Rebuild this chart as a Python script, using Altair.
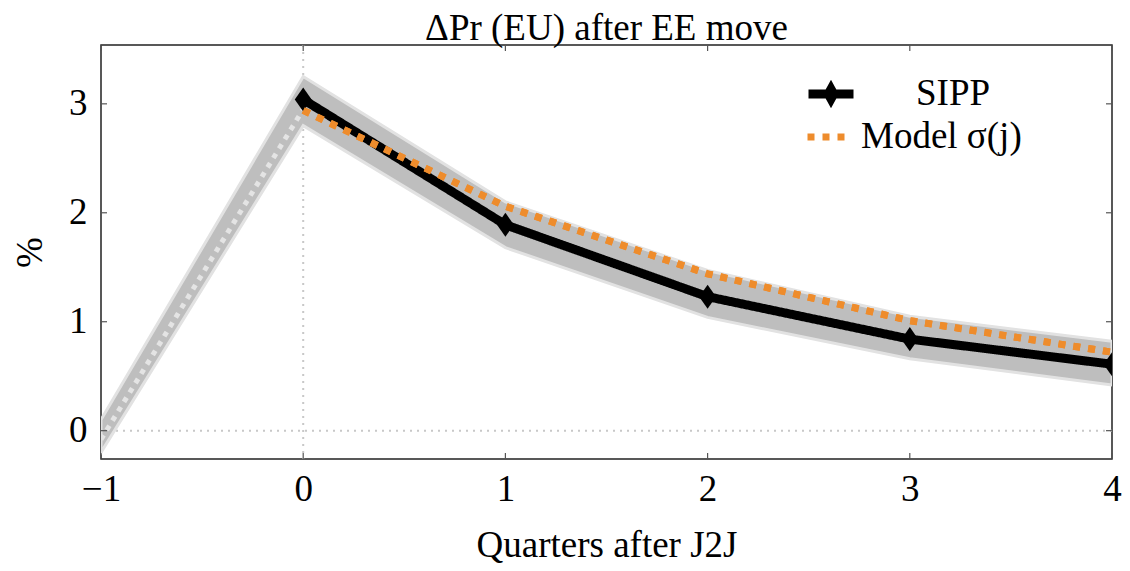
import altair as alt
import pandas as pd

# ---- data ----
sipp_x = [0, 1, 2, 3, 4]
sipp_y = [3.04, 1.89, 1.23, 0.84, 0.61]
model_x = [0, 1, 2, 3, 4]
model_y = [2.94, 2.06, 1.44, 1.01, 0.72]
band_x = [-1, 0, 1, 2, 3, 4]
band_lo = [-0.2, 2.80, 1.68, 1.04, 0.66, 0.42]
band_hi = [0.1, 3.25, 2.10, 1.47, 1.05, 0.82]
pre_x = [-1, 0]
pre_y = [-0.08, 2.95]
x_ticks = [-1, 0, 1, 2, 3, 4]
y_ticks = [0, 1, 2, 3]
series_names = ["SIPP", "Model σ(j)"]

W, H = 1011, 414
FONT = "Liberation Serif"
FS = 37
XD = [-1, 4]
YD = [-0.26, 3.54]
ORANGE = "#EE8C2C"

xs = alt.Scale(domain=XD, nice=False, zero=False)
ys = alt.Scale(domain=YD, nice=False, zero=False)

lines_df = pd.DataFrame(
    {"x": sipp_x + model_x,
     "y": sipp_y + model_y,
     "series": [series_names[0]] * len(sipp_x) + [series_names[1]] * len(model_x)}
)
band_df = pd.DataFrame({"x": band_x, "lo": band_lo, "hi": band_hi})
pre_df = pd.DataFrame({"x": pre_x, "y": pre_y})
sipp_df = pd.DataFrame({"x": sipp_x, "y": sipp_y})
xt_df = pd.DataFrame({"x": x_ticks})
yt_df = pd.DataFrame({"y": y_ticks})

xaxis = alt.Axis(values=x_ticks, title="Quarters after J2J", labelFont=FONT, titleFont=FONT,
                 labelFontSize=FS, titleFontSize=FS, labelColor="black", titleColor="black",
                 titleFontWeight="normal", ticks=False, domain=False, grid=False,
                 labelPadding=12, titlePadding=20, format="d", labelFlush=False,
                 labelOverlap=False, labelExpr="replace(datum.label, '-', '−')")
yaxis = alt.Axis(values=y_ticks, title="%", labelFont=FONT, titleFont=FONT,
                 labelFontSize=FS, titleFontSize=FS, labelColor="black", titleColor="black",
                 titleFontWeight="normal", ticks=False, domain=False, grid=False,
                 labelPadding=14, titlePadding=19, format="d", labelFlush=False)

grid_v = alt.Chart(pd.DataFrame({"x": [0]})).mark_rule(
    color="#c8c8c8", strokeDash=[2, 5], strokeWidth=2
).encode(x=alt.X("x:Q", scale=xs, axis=xaxis))
grid_h = alt.Chart(pd.DataFrame({"y": [0]})).mark_rule(
    color="#c8c8c8", strokeDash=[2, 5], strokeWidth=2
).encode(y=alt.Y("y:Q", scale=ys, axis=yaxis))

band = alt.Chart(band_df).mark_area(
    color="#bebebe", stroke="#e2e2e2", strokeWidth=3, opacity=1, clip=True
).encode(x=alt.X("x:Q", scale=xs), y=alt.Y("lo:Q", scale=ys), y2="hi:Q")

pre = alt.Chart(pre_df).mark_line(
    color="#e4e4e4", strokeDash=[5, 6], strokeWidth=5, clip=True
).encode(x=alt.X("x:Q", scale=xs), y=alt.Y("y:Q", scale=ys))

legend_sipp = alt.Legend(
    title=None, orient="none", legendX=703, legendY=22, padding=0,
    values=[series_names[0]],
    labelFont=FONT, labelFontSize=FS, labelColor="black", labelLimit=400,
    symbolSize=2025, symbolStrokeWidth=7, symbolFillColor="black",
    symbolType="M-1,0L1,0M0,-0.22L0.12,0L0,0.22L-0.12,0Z",
    labelOffset=58,
)
legend_model = alt.Legend(
    title=None, orient="none", legendX=703, legendY=66, padding=0,
    values=[series_names[1]],
    labelFont=FONT, labelFontSize=FS, labelColor="black", labelLimit=400,
    symbolSize=2025, symbolStrokeWidth=7, symbolStrokeColor=ORANGE,
    symbolType="stroke", labelOffset=5,
)

main_lines = alt.Chart(lines_df).mark_line(clip=True).encode(
    x=alt.X("x:Q", scale=xs),
    y=alt.Y("y:Q", scale=ys),
    color=alt.Color("series:N", scale=alt.Scale(domain=series_names, range=["#000000", ORANGE]),
                    legend=legend_sipp),
    strokeDash=alt.StrokeDash("series:N",
                              scale=alt.Scale(domain=series_names[::-1], range=[[7, 8], [1, 0]]),
                              legend=legend_model),
    strokeWidth=alt.StrokeWidth("series:N", scale=alt.Scale(domain=series_names, range=[9, 7]),
                                legend=None),
)

diamonds = alt.Chart(sipp_df).mark_point(
    shape="M0,-1L0.7,0L0,1L-0.7,0Z", filled=True, color="black", size=580, opacity=1, clip=True
).encode(x=alt.X("x:Q", scale=xs), y=alt.Y("y:Q", scale=ys))

model_top = alt.Chart(lines_df).transform_filter(
    alt.datum.series == series_names[1]
).mark_line(color=ORANGE, strokeDash=[7, 8], strokeWidth=7, clip=True).encode(
    x=alt.X("x:Q", scale=xs), y=alt.Y("y:Q", scale=ys)
)

tick_style = dict(color="#555555", strokeWidth=1.2)
xt_bot = alt.Chart(xt_df).mark_rule(**tick_style).encode(
    x=alt.X("x:Q", scale=xs), y=alt.value(H), y2=alt.value(H - 6))
xt_top = alt.Chart(xt_df).mark_rule(**tick_style).encode(
    x=alt.X("x:Q", scale=xs), y=alt.value(0), y2=alt.value(6))
yt_left = alt.Chart(yt_df).mark_rule(**tick_style).encode(
    y=alt.Y("y:Q", scale=ys), x=alt.value(0), x2=alt.value(6))
yt_right = alt.Chart(yt_df).mark_rule(**tick_style).encode(
    y=alt.Y("y:Q", scale=ys), x=alt.value(W), x2=alt.value(W - 6))

chart = alt.layer(
    grid_v, grid_h, band, pre, main_lines, diamonds, model_top,
    xt_bot, xt_top, yt_left, yt_right
).properties(
    width=W, height=H,
    title=alt.Title("ΔPr (EU) after EE move", font=FONT, fontSize=FS, fontWeight="normal",
                    color="black", anchor="middle", offset=-4),
    autosize=alt.AutoSizeParams(type="none"),
    padding={"left": 93, "top": 37, "right": 10, "bottom": 112},
).configure_view(stroke="#222222", strokeWidth=1.5)

chart.save("out.html", embed_options={"renderer": "svg", "actions": False})
